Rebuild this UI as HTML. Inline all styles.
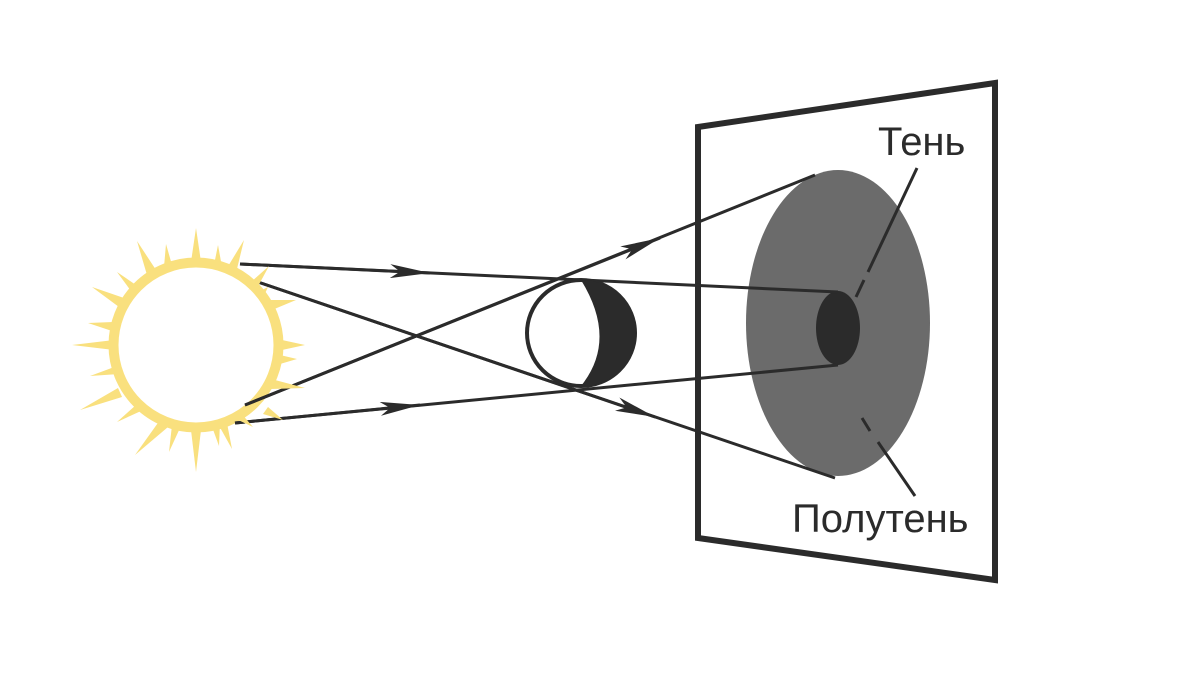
<!DOCTYPE html>
<html><head><meta charset="utf-8"><style>html,body{margin:0;padding:0;background:#fff}svg{display:block}</style></head>
<body>
<svg width="1200" height="675" viewBox="0 0 1200 675" xmlns="http://www.w3.org/2000/svg">
<defs>
<marker id="ah" viewBox="0 0 40 14" refX="40" refY="7" markerWidth="40" markerHeight="14" markerUnits="userSpaceOnUse" orient="auto">
<path d="M0,0 L40,7 L0,14 L10,7 Z" fill="#2b2b2b"/>
</marker>
</defs>
<!-- sun rays -->
<g fill="#f9e07e" id="rays"></g>
<circle cx="196" cy="345" r="82.5" fill="#fff" stroke="#f9e07e" stroke-width="10"/>
<!-- screen -->
<polygon points="698,127 995,83 995,580 698,538" fill="#fff" stroke="#2b2b2b" stroke-width="6"/>
<ellipse cx="838" cy="323" rx="92" ry="153" fill="#6b6b6b"/>
<ellipse cx="838" cy="328" rx="22" ry="37" fill="#2b2b2b"/>
<!-- rays lines -->
<g stroke="#2b2b2b" stroke-width="3" fill="none">
<line x1="240" y1="264" x2="838" y2="292"/>
<line x1="240" y1="264" x2="430" y2="273" marker-end="url(#ah)"/>
<line x1="255" y1="281" x2="835" y2="478"/>
<line x1="255" y1="281" x2="655" y2="417" marker-end="url(#ah)"/>
<line x1="245" y1="405" x2="815" y2="175"/>
<line x1="245" y1="405" x2="660" y2="238" marker-end="url(#ah)"/>
<line x1="235" y1="423" x2="838" y2="365"/>
<line x1="235" y1="423" x2="420" y2="405" marker-end="url(#ah)"/>
</g>
<!-- moon -->
<ellipse cx="581" cy="333" rx="54" ry="53" fill="#fff" stroke="#2b2b2b" stroke-width="4"/>
<path d="M581,280 A55,53 0 0 1 581,386 Q618,340 581,280 Z" fill="#2b2b2b"/>
<!-- leaders -->
<g stroke="#2b2b2b" stroke-width="3" fill="none">
<line x1="917" y1="168" x2="868" y2="272"/>
<line x1="864" y1="280" x2="856" y2="297" stroke-width="3"/>
<line x1="915" y1="496" x2="878" y2="442"/>
<line x1="862" y1="418" x2="870" y2="431"/>
</g>
<text x="878" y="155" font-family="Liberation Sans, sans-serif" font-size="40" fill="#2b2b2b">Тень</text>
<text x="792" y="532" font-family="Liberation Sans, sans-serif" font-size="40" fill="#2b2b2b">Полутень</text>
<g fill="#f9e07e">
<polygon points="196,228 201,262 191,262"/>
<polygon points="196,472 201,430 191,430"/>
<polygon points="72,345 114,340 114,350"/>
<polygon points="305,345 282,340 282,350"/>
<polygon points="137,241 156,270 147,275"/>
<polygon points="244,240 236,273 227,268"/>
<polygon points="92,287 124,298 119,307"/>
<polygon points="296,300 268,300 272,310"/>
<polygon points="80,410 118,388 122,397"/>
<polygon points="305,388 275,380 271,389"/>
<polygon points="135,455 160,420 168,427"/>
<polygon points="232,449 226,418 217,422"/>
<polygon points="166,244 172,265 164,267"/>
<polygon points="218,245 214,265 222,267"/>
<polygon points="117,272 136,285 131,291"/>
<polygon points="269,266 250,283 256,290"/>
<polygon points="88,323 113,322 112,331"/>
<polygon points="297,359 280,355 280,364"/>
<polygon points="90,376 117,366 119,374"/>
<polygon points="283,420 268,407 263,414"/>
<polygon points="117,422 136,405 141,411"/>
<polygon points="253,427 240,412 234,418"/>
<polygon points="169,452 172,425 180,428"/>
<polygon points="219,446 211,424 220,422"/>
<polygon points="268,287 258,292 262,300"/>
</g>
</svg>
</body></html>
